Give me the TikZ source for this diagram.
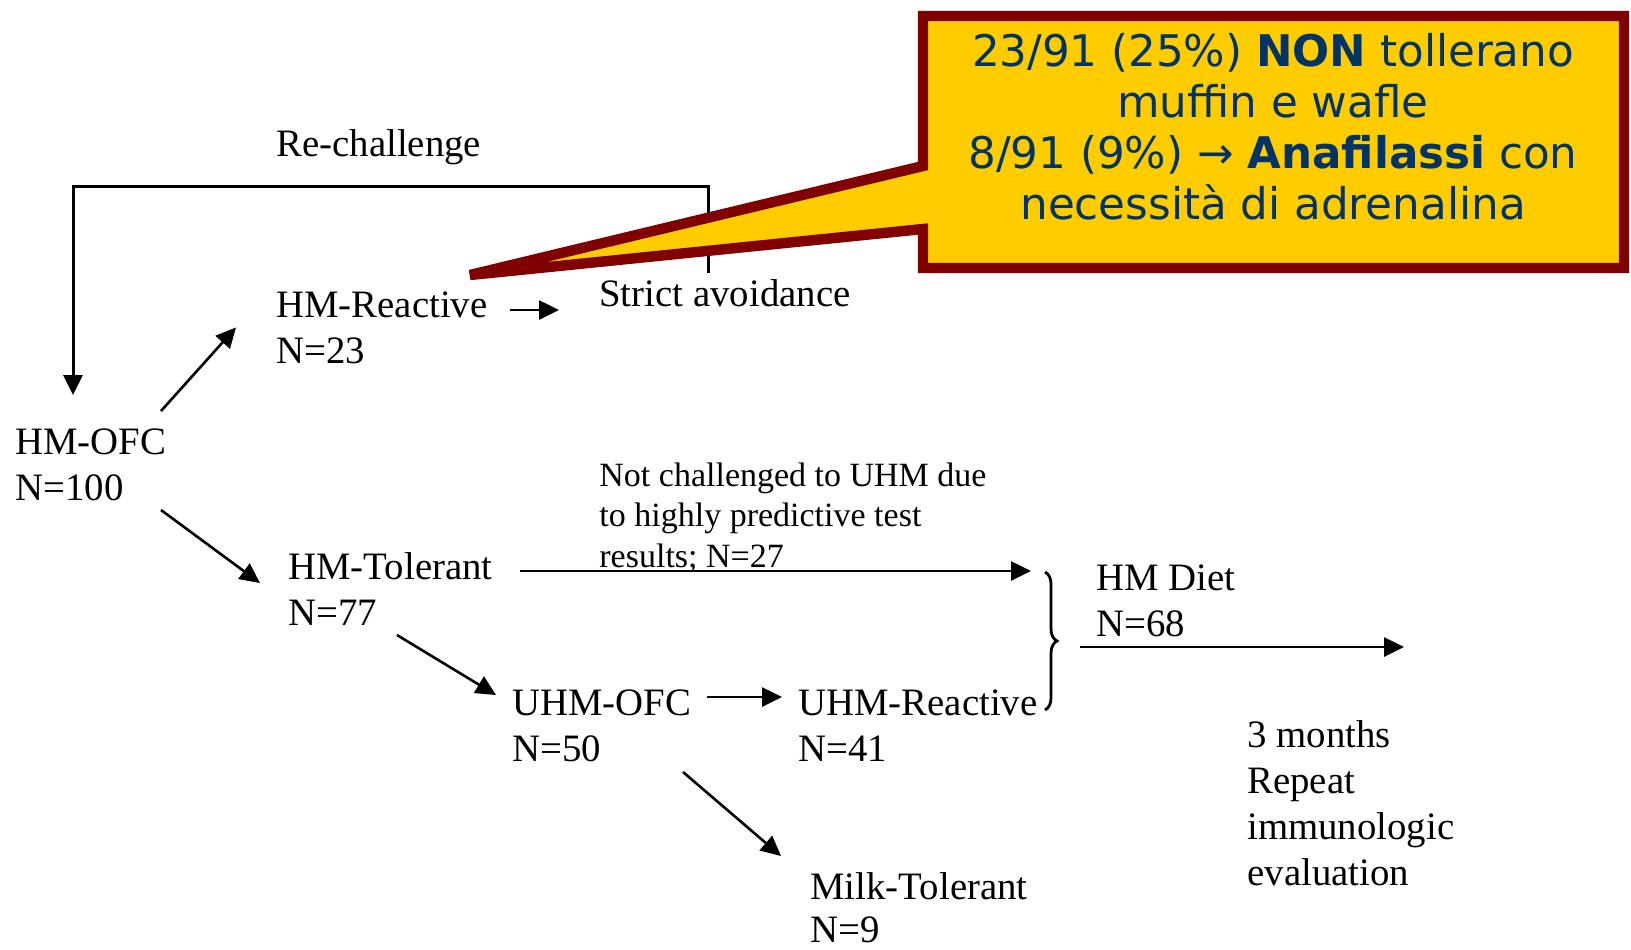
\documentclass[tikz,border=0pt]{standalone}
\usepackage{fontspec}
\setmainfont{Liberation Serif}
\newfontfamily\notefont{DejaVu Sans}
\usetikzlibrary{arrows.meta,decorations.pathreplacing}
\definecolor{noteyellow}{HTML}{FFCC00}
\definecolor{noteborder}{HTML}{800000}
\definecolor{notetext}{HTML}{003366}
\begin{document}
\begin{tikzpicture}[x=0.5pt,y=-0.5pt,
  lbl/.style={anchor=north west, inner sep=0pt, align=left, font=\fontsize{19.4pt}{23pt}\selectfont},
  small/.style={anchor=north west, inner sep=0pt, align=left, font=\fontsize{17pt}{20.25pt}\selectfont},
  arr/.style={line width=1.3pt, -{Triangle[length=10pt,width=9.5pt]}},
  bracestyle/.style={line width=1.4pt, decorate, decoration={brace, amplitude=6pt}},
  callout/.style={draw=noteborder, fill=noteyellow, line width=5.2pt, line join=miter, miter limit=4},
  notestyle/.style={font=\notefont\fontsize{21.8pt}{25.5pt}\selectfont, text=notetext, align=center, inner sep=0pt}
  ]
\useasboundingbox (0,0) rectangle (1631,949);
\fill[white] (0,0) rectangle (1631,949);

% text nodes
\node[lbl] (rech) at (276,129) {Re-challenge};
\node[lbl] (hmr) at (276,291) {HM-Reactive\\N=23};
\node[lbl] (strict) at (599,279) {Strict avoidance};
\node[lbl] (hmofc) at (15,428) {HM-OFC\\N=100};
\node[lbl] (hmt) at (288,552) {HM-Tolerant\\N=77};
\node[small] (notch) at (599,462) {Not challenged to UHM due\\to highly predictive test\\results; N=27};
\node[lbl] (uhmofc) at (512,689) {UHM-OFC\\N=50};
\node[lbl] (uhmr) at (798,689) {UHM-Reactive\\N=41};
\node[lbl, font=\fontsize{19.4pt}{21.6pt}\selectfont] (milk) at (810,872) {Milk-Tolerant\\N=9};
\node[lbl] (hmdiet) at (1096,564) {HM Diet\\N=68};
\node[lbl] (months) at (1247,720) {3 months\\Repeat\\immunologic\\evaluation};

% re-challenge loop
\draw[arr, line width=1.5pt] ([xshift=54.5pt,yshift=3pt]strict.north west) -- ++(0,-87) -| ([xshift=29pt,yshift=16.5pt]hmofc.north west);

% connectors
\draw[arr] ([xshift=73pt,yshift=8.5pt]hmofc.north west) -- ([xshift=-20pt]hmr.west);
\draw[arr] ([xshift=117pt,yshift=-9.5pt]hmr.north west) -- ([xshift=-20pt,yshift=-15.5pt]strict.north west);
\draw[arr] ([xshift=73pt,yshift=-41pt]hmofc.north west) -- ([xshift=-14pt,yshift=-15.5pt]hmt.north west);

\coordinate (bt) at (1045,572);
\coordinate (bb) at (1045,710);
\draw[bracestyle] (bt) -- (bb);

\draw[arr] ([xshift=116pt,yshift=-9.5pt]hmt.north west) -- ([xshift=-7pt,yshift=0.5pt]bt);
\draw[arr] ([xshift=54.5pt,yshift=-41.5pt]hmt.north west) -- ([xshift=-8pt,yshift=-3pt]uhmofc.north west);
\draw[arr] ([xshift=97.5pt,yshift=-4pt]uhmofc.north west) -- ([xshift=-8pt,yshift=-4pt]uhmr.north west);
\draw[arr] ([xshift=85.5pt,yshift=-41.5pt]uhmofc.north west) -- ([xshift=-14.5pt,yshift=8pt]milk.north west);
\draw[arr] ([xshift=-8pt,yshift=-41.5pt]hmdiet.north west) -- ([xshift=78.5pt,yshift=36.5pt]months.north west);

% callout
\draw[callout] (923,16) -- (1624,16) -- (1624,268) -- (923,268) -- (923,229) -- (470,275) -- (923,166) -- cycle;
\node[notestyle] (note) at (1273,127) {23/91 (25\%) \textbf{NON} tollerano\\muffin e wafle\\8/91 (9\%) → \textbf{Anafilassi} con\\necessità di adrenalina};
\end{tikzpicture}
\end{document}
